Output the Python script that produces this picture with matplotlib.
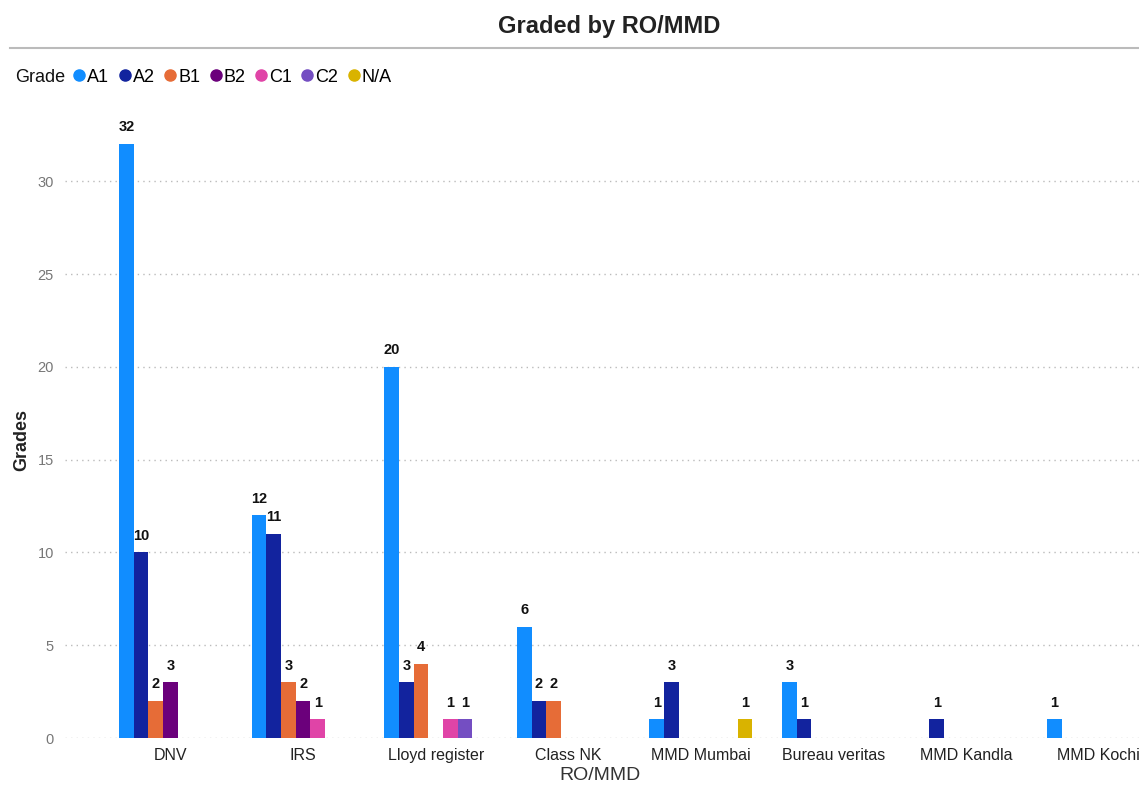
import numpy as np
import matplotlib
matplotlib.use("Agg")
import matplotlib.pyplot as plt
from matplotlib.lines import Line2D

plt.rcParams['font.family'] = ['Liberation Sans', 'DejaVu Sans']

categories = ["DNV", "IRS", "Lloyd register", "Class NK", "MMD Mumbai",
              "Bureau veritas", "MMD Kandla", "MMD Kochi"]
grades = ["A1", "A2", "B1", "B2", "C1", "C2", "N/A"]
A1 = [32, 12, 20, 6, 1, 3, 0, 1]
A2 = [10, 11, 3, 2, 3, 1, 1, 0]
B1 = [2, 3, 4, 2, 0, 0, 0, 0]
B2 = [3, 2, 0, 0, 0, 0, 0, 0]
C1 = [0, 1, 1, 0, 0, 0, 0, 0]
C2 = [0, 0, 1, 0, 0, 0, 0, 0]
NA = [0, 0, 0, 0, 1, 0, 0, 0]
series = [A1, A2, B1, B2, C1, C2, NA]
colors = ["#118DFF", "#12239E", "#E66C37", "#6B007B", "#E044A7", "#744EC2", "#D9B300"]
yticks = [0, 5, 10, 15, 20, 25, 30]

fig = plt.figure(figsize=(11.39, 7.87), dpi=100)
ax = fig.add_axes([65/1139, 49/787, 1 - 65/1139, (738-107)/787])

x = np.arange(len(categories))
w = 0.1109
for j, (vals, col) in enumerate(zip(series, colors)):
    vals = np.array(vals, dtype=float)
    mask = vals > 0
    xs = x[mask] + (j - 3) * w
    ax.bar(xs, vals[mask], width=w, color=col, linewidth=0, zorder=3)
    for xi, v in zip(xs, vals[mask]):
        ax.annotate(f"{int(v)}", (xi, v), xytext=(0, 7), textcoords="offset points",
                    ha="center", va="bottom", fontsize=10.5, fontweight="bold", color="#111")

ax.set_xlim(-0.796, 7.304)
ax.set_ylim(0, 34)
ax.set_yticks(yticks)
ax.set_yticklabels([str(t) for t in yticks], fontsize=10.5, color="#777777")
ax.set_xticks(x)
ax.set_xticklabels(categories, fontsize=11.5, color="#222222")
ax.tick_params(axis='both', length=0)
ax.tick_params(axis='x', pad=7)
ax.tick_params(axis='y', pad=8)
for s in ax.spines.values():
    s.set_visible(False)
ax.grid(axis='y', linestyle=(0, (1, 3)), color="#bbbbbb", linewidth=1, zorder=0)
ax.set_axisbelow(True)

ax.set_xlabel("RO/MMD", fontsize=14, color="#333333")
ax.xaxis.set_label_coords((600-65)/1074, (738-776)/631)
ax.xaxis.label.set_va("center")
ax.set_ylabel("Grades", fontsize=13, fontweight="bold", color="#222222")
ax.yaxis.set_label_coords((22-65)/1074, (738-440)/631)
ax.yaxis.label.set_va("center")

fig.text(609/1139, 1 - 27/787, "Graded by RO/MMD", ha="center", va="center",
         fontsize=17, fontweight="bold", color="#222222")
fig.add_artist(Line2D([10/1139, 1], [1 - 48/787, 1 - 48/787], color="#bbbbbb", linewidth=1.5))

handles = [Line2D([], [], marker='o', linestyle='', color=c, markersize=8) for c in colors]
fig.legend(handles, grades, loc="center left", bbox_to_anchor=(72/1139, 1 - 77/787),
           ncol=7, frameon=False, fontsize=13, handletextpad=0.05,
           columnspacing=0.45, handlelength=0.8, borderaxespad=0, borderpad=0)
fig.text(15/1139, 1 - 77/787, "Grade", ha="left", va="center", fontsize=13, color="#111")

fig.savefig("out.png", dpi=100)
